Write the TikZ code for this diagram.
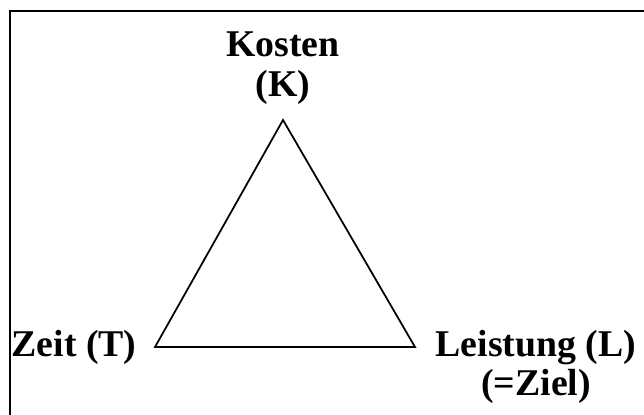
\documentclass[tikz,border=0pt]{standalone}
\usepackage{fontspec}
\setmainfont{Liberation Serif}
\usetikzlibrary{positioning}

\begin{document}
\begin{tikzpicture}[
    x=0.02cm, y=-0.02cm,
    goal/.style={font=\bfseries\fontsize{21.5}{22.5}\selectfont, align=center, inner sep=0pt},
    side/.style={line width=1pt, line join=miter}
]
    \useasboundingbox (0,0) rectangle (644,414);
    \clip (0,0) rectangle (644,414);

    % Frame
    \draw[line width=1.1pt] (10,11) rectangle (670,440);

    % Corners of the triangle
    \coordinate (kosten) at (283,120);
    \coordinate (zeit) at (155,347);
    \coordinate (leistung) at (415,347);

    % Labels
    \node[goal] (klabel) at (283,68) {Kosten\\(K)};
    \node[goal] (tlabel) at (74,347) {Zeit (T)};
    \node[goal] (llabel) at (536,367) {Leistung (L)\\(=Ziel)};

    % Triangle
    \draw[side] (kosten) -- (leistung) -- (zeit) -- cycle;

\end{tikzpicture}
\end{document}
